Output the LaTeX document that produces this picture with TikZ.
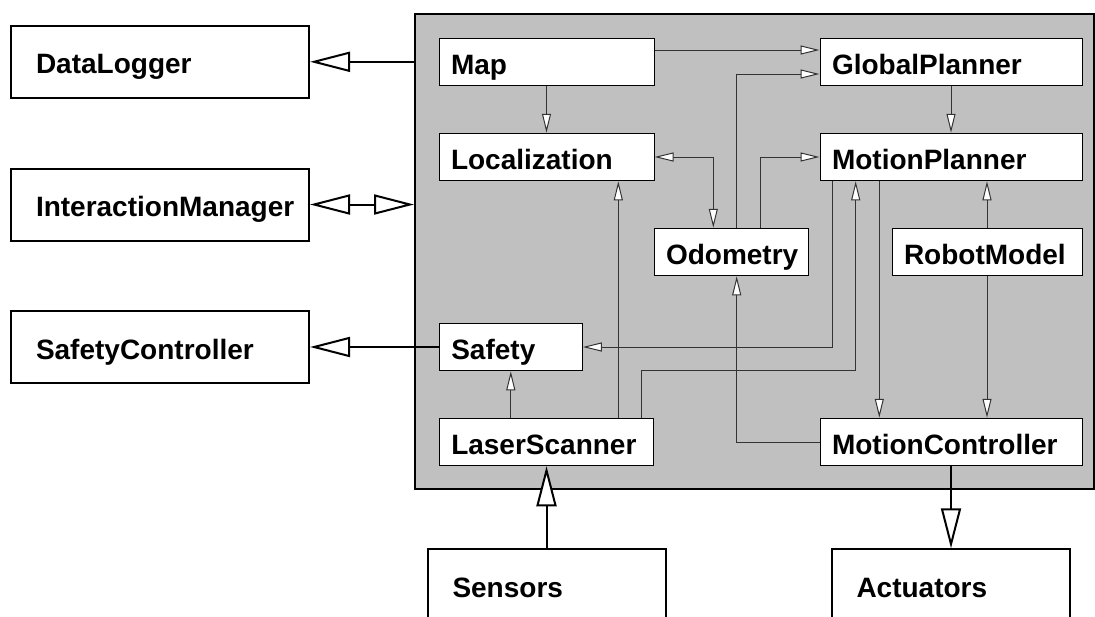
\documentclass[tikz,border=0pt]{standalone}
\usepackage{fontspec}
\setmainfont{Liberation Sans}
\usetikzlibrary{arrows.meta}
\definecolor{sysgray}{HTML}{C0C0C0}
\begin{document}
\begin{tikzpicture}[x=1pt,y=-1pt,
  lbl/.style={font=\fontsize{28}{34}\selectfont\bfseries, text height=24pt, text depth=0pt,
    align=left, inner xsep=0pt, inner ysep=0pt, fill=white},
  inbox/.style={lbl, draw=black, line width=1pt, minimum height=47.5pt,
    execute at begin node={\hspace*{12pt}}},
  outbox/.style={lbl, draw=black, line width=2pt, minimum height=72pt,
    execute at begin node={\hspace*{25pt}}},
  conn/.style={draw=black!80, line width=1pt,
    -{Triangle[length=19pt,width=9pt,fill=white]}},
  conntwo/.style={draw=black!80, line width=1pt,
    {Triangle[length=19pt,width=9pt,fill=white]}-{Triangle[length=19pt,width=9pt,fill=white]}},
  ext/.style={draw=black, line width=2pt,
    -{Triangle[length=40pt,width=20pt,fill=white]}},
  exttwo/.style={draw=black, line width=2pt,
    {Triangle[length=40pt,width=20pt,fill=white]}-{Triangle[length=40pt,width=20pt,fill=white]}}
]
\path[use as bounding box] (0,0) rectangle (1095,616);
\clip (0,0) rectangle (1095,616);

% container
\node[draw=black, line width=2pt, fill=sysgray, minimum width=679pt, minimum height=475pt,
  inner sep=0pt] (sys) at (754.5,251.5) {};

% inner components
\node[inbox, text width=215pt] (map) at (546.5,62) {Map};
\node[inbox, text width=215pt] (loc) at (546.5,157) {Localization};
\node[inbox, text width=262pt] (gp) at (951,62) {GlobalPlanner};
\node[inbox, text width=262pt] (mp) at (951,157) {MotionPlanner};
\node[inbox, text width=154pt] (odo) at (731,252) {Odometry};
\node[inbox, text width=190pt] (rm) at (987,252) {RobotModel};
\node[inbox, text width=143pt] (safety) at (510.8,347) {Safety};
\node[inbox, text width=214.5pt] (ls) at (546.5,442) {LaserScanner};
\node[inbox, text width=262pt] (mc) at (951,442) {MotionController};

% outer components
\node[outbox, text width=298pt] (dl) at (160,61.8) {DataLogger};
\node[outbox, text width=298pt] (im) at (160,204.5) {InteractionManager};
\node[outbox, text width=298pt] (sc) at (160,347.2) {SafetyController};
\node[outbox, text width=238pt] (sens) at (546.5,585.3) {Sensors};
\node[outbox, text width=238pt] (act) at (950.5,585.3) {Actuators};

% inner connectors
\draw[conn] ([yshift=12pt]map.east) -- ([yshift=12pt]gp.west);
\draw[conn] (map.south) -- (loc.north);
\draw[conn] ([xshift=5.7pt]odo.north) |- ([yshift=-12pt]gp.west);
\draw[conntwo] (loc.east) -| ([xshift=-17.7pt]odo.north);
\draw[conn] ([xshift=29.7pt]odo.north) |- (mp.west);
\draw[conn] (gp.south) -- (mp.north);
\draw[conn] (rm.north) -- (rm.north |- mp.south);
\draw[conn] (rm.south) -- (rm.south |- mc.north);
\draw[conn] ([xshift=-71.7pt]mp.south) -- ([xshift=-71.7pt]mc.north);
\draw[conn] ([xshift=-118.7pt]mp.south) |- (safety.east);
\coordinate (lsmp) at (855.7,370.7);
\draw[conn] ([xshift=95.2pt]ls.north) |- (lsmp) -- ([xshift=-95.3pt]mp.south);
\draw[conn] ([xshift=71.8pt]ls.north) -- ([xshift=71.8pt]loc.south);
\draw[conn] (ls.north -| safety.south) -- (safety.south);
\draw[conn] (mc.west) -| ([xshift=5.7pt]odo.south);

% external connectors
\draw[ext] (sys.west |- dl.east) -- (dl.east);
\draw[exttwo] (im.east) -- (sys.west |- im.east);
\draw[ext] (safety.west) -- (sc.east |- safety.west);
\draw[ext] (sens.north) -- (ls.south);
\draw[ext] (mc.south) -- (mc.south |- act.north);
\end{tikzpicture}
\end{document}
